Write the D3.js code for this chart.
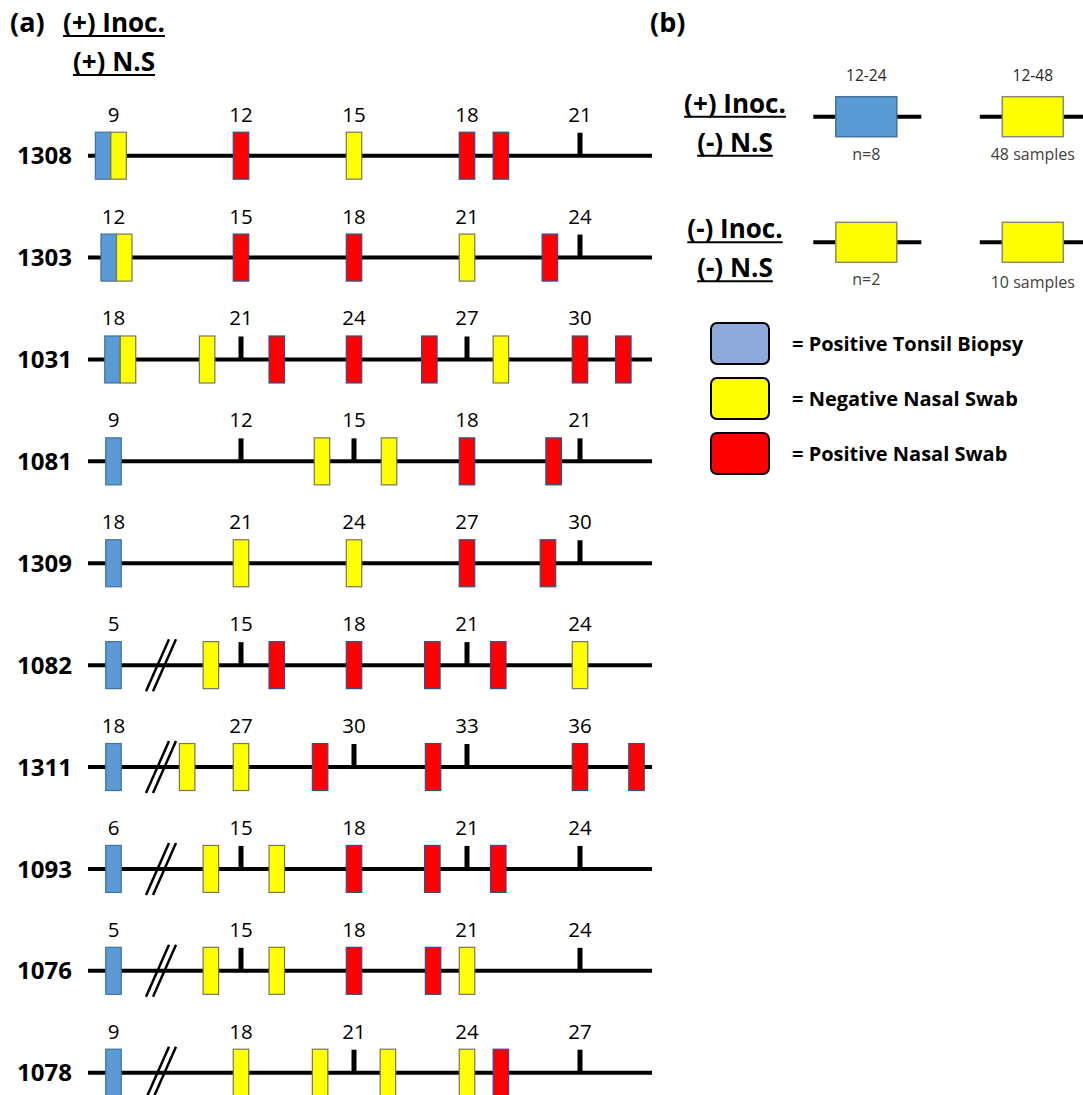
<!DOCTYPE html>
<html>
<head>
<meta charset="utf-8">
<script src="https://cdn.jsdelivr.net/npm/d3@7"></script>
<style>
  body { margin: 0; background: #fff; }
  text { font-family: "Open Sans", "Liberation Sans", sans-serif; }
</style>
</head>
<body>
<script>

// ---- panel (a) data: one entry per animal ----
var animals = ["1308", "1303", "1031", "1081", "1309", "1082", "1311", "1093", "1076", "1078"];
var biopsyDays = [9, 12, 18, 9, 18, 5, 18, 6, 5, 9];
var firstTicks = [12, 15, 21, 12, 21, 15, 27, 15, 15, 18];
var hasBreak = [false, false, false, false, false, true, true, true, true, true];

// nasal swabs: [day, result]
var swabs = [
	[[8.75, "neg"], [12, "pos"], [15, "neg"], [18, "pos"], [18.9, "pos"]],
	[[11.9, "neg"], [15, "pos"], [18, "pos"], [21, "neg"], [23.2, "pos"]],
	[[18, "neg"], [20.1, "neg"], [21.95, "pos"], [24, "pos"], [26, "pos"], [27.9, "neg"], [30, "pos"], [31.15, "pos"]],
	[[14.15, "neg"], [15.93, "neg"], [18, "pos"], [20.3, "pos"]],
	[[21, "neg"], [24, "neg"], [27, "pos"], [29.15, "pos"]],
	[[14.2, "neg"], [15.95, "pos"], [18, "pos"], [20.08, "pos"], [21.83, "pos"], [24, "neg"]],
	[[25.57, "neg"], [27, "neg"], [29.1, "pos"], [32.1, "pos"], [36, "pos"], [37.5, "pos"]],
	[[14.2, "neg"], [15.95, "neg"], [18, "pos"], [20.08, "pos"], [21.83, "pos"]],
	[[14.2, "neg"], [15.95, "neg"], [18, "pos"], [20.1, "pos"], [21, "neg"]],
	[[18, "neg"], [20.1, "neg"], [21.9, "neg"], [24, "neg"], [24.9, "pos"]]
];

// ---- panel (b) data ----
var groupTitles = [["(+) Inoc.", "(-) N.S"], ["(-) Inoc.", "(-) N.S"]];
var groupTypes = [["biopsy", "neg"], ["neg", "neg"]];
var groupRanges = [["12-24", "12-48"], ["", ""]];
var groupCounts = [["n=8", "48 samples"], ["n=2", "10 samples"]];

var legendLabels = ["= Positive Tonsil Biopsy", "= Negative Nasal Swab", "= Positive Nasal Swab"];
var legendColors = ["#8EA9DB", "#FFFF00", "#FF0000"];

var fills = {"biopsy": "#5B9BD5", "neg": "#FFFF00", "pos": "#FF0000"};
var strokes = {"biopsy": "#41719C", "neg": "#77775a", "pos": "#2F528F"};

var W = 1083, H = 1095;

var svg = d3.select("body").append("svg")
	.attr("width", W)
	.attr("height", H);

function underlined(parent, str, x, y, size) {
	var t = parent.append("text")
		.attr("x", x)
		.attr("y", y)
		.attr("text-anchor", "middle")
		.attr("font-size", size)
		.attr("font-weight", "bold")
		.text(str);
	var len = t.node().getComputedTextLength();
	parent.append("line")
		.attr("x1", x - len / 2).attr("x2", x + len / 2)
		.attr("y1", y + 4).attr("y2", y + 4)
		.attr("stroke", "#000")
		.attr("stroke-width", 2);
}

// ---------- panel (a) ----------
var boxW = 15.5, boxH = 47;
var firstColX = 113.5;

svg.append("text")
	.attr("x", 10).attr("y", 32)
	.attr("font-size", 27).attr("font-weight", "bold")
	.text("(a)");

underlined(svg, "(+) Inoc.", 114, 32, 26);
underlined(svg, "(+) N.S", 114, 71, 26);

var yRow = d3.scalePoint()
	.domain(animals)
	.range([155.7, 1072.7]);

animals.forEach(function(id, i) {

	var g = svg.append("g")
		.attr("transform", "translate(0," + yRow(id) + ")");

	var x = d3.scaleLinear()
		.domain([firstTicks[i], firstTicks[i] + 9])
		.range([241, 580]);

	var tickVals = d3.range(firstTicks[i], firstTicks[i] + 10, 3);
	var rowSwabs = swabs[i];

	g.append("line")
		.attr("x1", 88).attr("x2", 652)
		.attr("y1", 0).attr("y2", 0)
		.attr("stroke", "#000")
		.attr("stroke-width", 4);

	g.append("text")
		.attr("x", 72).attr("y", 0)
		.attr("dy", "0.36em")
		.attr("text-anchor", "end")
		.attr("font-size", 24)
		.attr("font-weight", "bold")
		.text(id);

	// tick marks only where there is no sample box
	g.selectAll("rect.tick")
		.data(tickVals.filter(function(v) {
			return !rowSwabs.some(function(s) { return Math.abs(s[0] - v) < 0.4; });
		}))
		.enter()
		.append("rect")
		.attr("class", "tick")
		.attr("x", function(v) { return x(v) - 2.5; })
		.attr("y", -23)
		.attr("width", 5)
		.attr("height", 23)
		.attr("fill", "#000");

	if (hasBreak[i]) {
		[0, 7].forEach(function(off) {
			g.append("line")
				.attr("x1", 146 + off).attr("y1", 26)
				.attr("x2", 169 + off).attr("y2", -26)
				.attr("stroke", "#000")
				.attr("stroke-width", 2.5);
		});
	}

	// biopsy box sits left of a same-day swab, else in the first column
	var paired = rowSwabs.filter(function(s) { return s[0] <= biopsyDays[i]; })[0];
	var bx = paired ? x(paired[0]) - boxW / 2 - boxW : firstColX - boxW / 2;

	g.append("rect")
		.attr("x", bx)
		.attr("y", -boxH / 2)
		.attr("width", boxW)
		.attr("height", boxH)
		.attr("fill", fills.biopsy)
		.attr("stroke", strokes.biopsy)
		.attr("stroke-width", 1.2);

	g.selectAll("rect.swab")
		.data(rowSwabs)
		.enter()
		.append("rect")
		.attr("class", "swab")
		.attr("x", function(d) { return x(d[0]) - boxW / 2; })
		.attr("y", -boxH / 2)
		.attr("width", boxW)
		.attr("height", boxH)
		.attr("fill", function(d) { return fills[d[1]]; })
		.attr("stroke", function(d) { return strokes[d[1]]; })
		.attr("stroke-width", 1.2);

	// day labels
	g.append("text")
		.attr("x", firstColX).attr("y", -34)
		.attr("text-anchor", "middle")
		.attr("font-size", 20.5)
		.text(biopsyDays[i]);

	g.selectAll("text.day")
		.data(tickVals)
		.enter()
		.append("text")
		.attr("class", "day")
		.attr("x", function(v) { return x(v); })
		.attr("y", -34)
		.attr("text-anchor", "middle")
		.attr("font-size", 20.5)
		.text(function(v) { return v; });

});

// ---------- panel (b) ----------
svg.append("text")
	.attr("x", 650).attr("y", 32)
	.attr("font-size", 27).attr("font-weight", "bold")
	.text("(b)");

var yGroup = d3.scalePoint().domain([0, 1]).range([116.7, 242.3]);
var xGroup = d3.scalePoint().domain([0, 1]).range([866.3, 1032.8]);

groupTitles.forEach(function(titles, gi) {

	var gy = yGroup(gi);

	underlined(svg, titles[0], 735, gy - 4, 26);
	underlined(svg, titles[1], 735, gy + 35, 26);

	groupTypes[gi].forEach(function(type, j) {

		var cx = xGroup(j);

		svg.append("line")
			.attr("x1", cx - 53).attr("x2", cx + 55)
			.attr("y1", gy).attr("y2", gy)
			.attr("stroke", "#000")
			.attr("stroke-width", 4);

		svg.append("rect")
			.attr("x", cx - 30.5).attr("y", gy - 20)
			.attr("width", 61).attr("height", 40)
			.attr("fill", fills[type])
			.attr("stroke", type == "biopsy" ? strokes.biopsy : "#8a8a70")
			.attr("stroke-width", 1.5);

		if (groupRanges[gi][j]) {
			svg.append("text")
				.attr("x", cx).attr("y", gy - 36)
				.attr("text-anchor", "middle")
				.attr("font-size", 15.5)
				.attr("fill", "#262626")
				.text(groupRanges[gi][j]);
		}

		svg.append("text")
			.attr("x", cx).attr("y", gy + 43 + (gi == 1 && j == 1 ? 3 : 0))
			.attr("text-anchor", "middle")
			.attr("font-size", 16)
			.attr("fill", "#404040")
			.text(groupCounts[gi][j]);

	});

});

// legend
var yLegend = d3.scalePoint().domain(legendLabels).range([343.5, 453.5]);

svg.selectAll("rect.legend")
	.data(legendLabels)
	.enter()
	.append("rect")
	.attr("class", "legend")
	.attr("x", 711)
	.attr("y", function(d) { return yLegend(d) - 20.5; })
	.attr("width", 58)
	.attr("height", 41)
	.attr("rx", 6)
	.attr("fill", function(d, i) { return legendColors[i]; })
	.attr("stroke", "#000")
	.attr("stroke-width", 2);

svg.selectAll("text.legend")
	.data(legendLabels)
	.enter()
	.append("text")
	.attr("class", "legend")
	.attr("x", 792)
	.attr("y", function(d) { return yLegend(d); })
	.attr("dy", "0.36em")
	.attr("font-size", 20)
	.attr("font-weight", "bold")
	.text(function(d) { return d; });

</script>
</body>
</html>
